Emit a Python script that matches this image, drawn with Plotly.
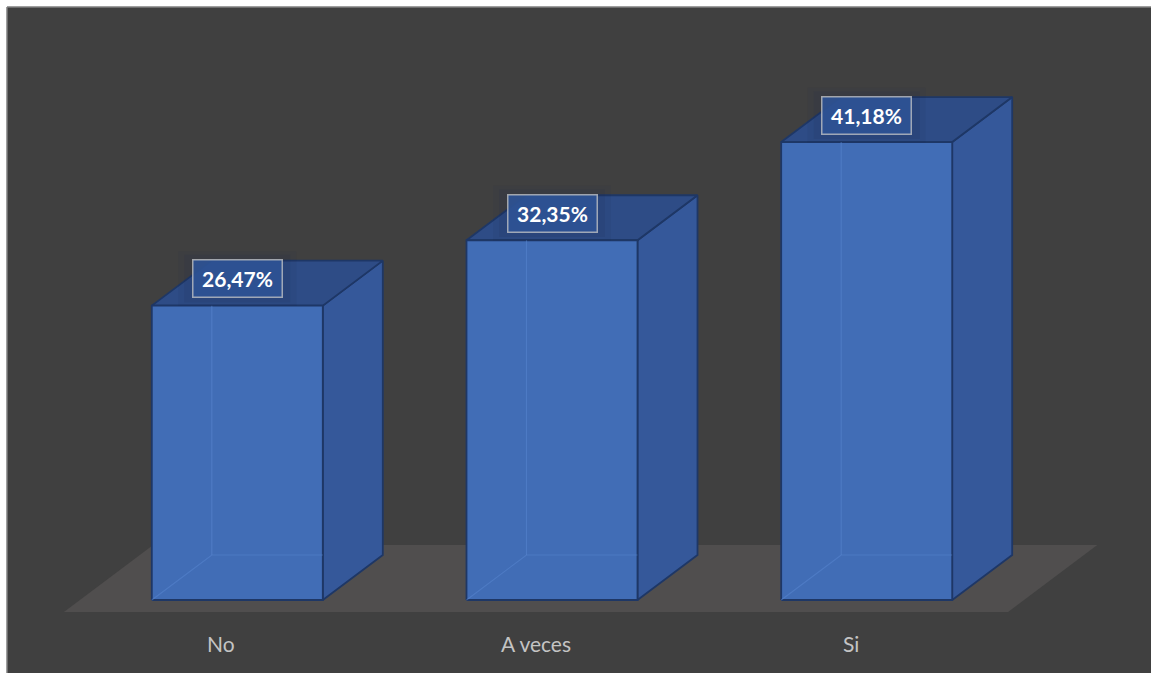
import plotly.graph_objects as go

# ---- data ----
categories = ["No", "A veces", "Si"]
values = [26.47, 32.35, 41.18]
value_labels = ["26,47%", "32,35%", "41,18%"]

# ---- layout geometry (pixels, page coordinates) ----
W, H = 1151, 673
ML, MT = 7, 7            # white margin around the chart area
CAT_PX = 314.7           # pixels per category
PX_PER_PCT = 11.12       # pixels per percentage point
X0_PX = 221.3            # page x of first category (floor front)
FLOOR_Y_PX = 612         # page y of floor front edge
DX, DY = 0.8, 0.6        # depth direction (per depth pixel)
FLOOR_DEPTH = 111.5
BAR_D0, BAR_D1 = 20, 95
HALF_W = 0.2717          # half bar width in category units

x_range = [(ML - X0_PX) / CAT_PX, (W - X0_PX) / CAT_PX]
y_range = [(FLOOR_Y_PX - H) / PX_PER_PCT, (FLOOR_Y_PX - MT) / PX_PER_PCT]


def proj(c, v, d):
    return c + DX * d / CAT_PX, v + DY * d / PX_PER_PCT


def poly(pts):
    xs = [p[0] for p in pts] + [pts[0][0]]
    ys = [p[1] for p in pts] + [pts[0][1]]
    return xs, ys


FRONT = "#416DB6"
SIDE = "#35589A"
TOP = "#2E4C86"
EDGE = "#1E3766"
FLOOR = "#504E4E"
BG = "#404040"

fig = go.Figure()

# floor
n = len(categories)
fl = [proj(-0.5, 0, 0), proj(n - 0.5, 0, 0),
      proj(n - 0.5, 0, FLOOR_DEPTH), proj(-0.5, 0, FLOOR_DEPTH)]
xs, ys = poly(fl)
fig.add_trace(go.Scatter(x=xs, y=ys, mode="lines", fill="toself",
                         fillcolor=FLOOR, line=dict(width=0),
                         hoverinfo="skip", showlegend=False))

for i, v in enumerate(values):
    cl, cr = i - HALF_W, i + HALF_W
    side = [proj(cr, 0, BAR_D0), proj(cr, 0, BAR_D1), proj(cr, v, BAR_D1), proj(cr, v, BAR_D0)]
    top = [proj(cl, v, BAR_D0), proj(cr, v, BAR_D0), proj(cr, v, BAR_D1), proj(cl, v, BAR_D1)]
    front = [proj(cl, 0, BAR_D0), proj(cr, 0, BAR_D0), proj(cr, v, BAR_D0), proj(cl, v, BAR_D0)]
    for pts, col in ((side, SIDE), (top, TOP), (front, FRONT)):
        xs, ys = poly(pts)
        fig.add_trace(go.Scatter(x=xs, y=ys, mode="lines", fill="toself",
                                 fillcolor=col, line=dict(color=EDGE, width=1.8),
                                 hoverinfo="skip", showlegend=False))
    # faint hidden edges seen through the front face
    bbl = proj(cl, 0, BAR_D1)
    fbl = proj(cl, 0, BAR_D0)
    ftl_y = proj(cl, v, BAR_D0)[1]
    bbr_x = proj(cr, 0, BAR_D0)[0]
    hx = [fbl[0], bbl[0], bbr_x, None, bbl[0], bbl[0]]
    hy = [fbl[1], bbl[1], bbl[1], None, bbl[1], ftl_y]
    fig.add_trace(go.Scatter(x=hx, y=hy, mode="lines",
                             line=dict(color="rgba(90,135,210,0.5)", width=1.2),
                             hoverinfo="skip", showlegend=False))

annotations = []
shapes = []
for i, (v, lab) in enumerate(zip(values, value_labels)):
    ax, ay = proj(i, v, BAR_D0)
    # soft shadow behind the label
    for k, a in ((14, 0.08), (8, 0.10)):
        shapes.append(dict(type="rect", xref="x", yref="y", xsizemode="pixel",
                           ysizemode="pixel", xanchor=ax, yanchor=ay,
                           x0=-45 - k, x1=45 + k, y0=27 - 19 - k * 0.6, y1=27 + 19 + k * 0.6,
                           fillcolor=f"rgba(25,40,75,{a})", line=dict(width=0),
                           layer="above"))
    annotations.append(dict(x=ax, y=ay, xref="x", yref="y", text=f"<b>{lab}</b>",
                            showarrow=False, yshift=27, width=86, height=34,
                            bgcolor="rgba(46,82,148,0.92)",
                            bordercolor="rgba(200,200,200,0.75)", borderwidth=1.5,
                            borderpad=1,
                            font=dict(family="Lato", size=21, color="white")))

for i, cat in enumerate(categories):
    annotations.append(dict(x=i, y=0, xref="x", yref="y", text=cat, showarrow=False,
                            yshift=-31, yanchor="middle",
                            font=dict(family="Lato", size=21, color="#C4C4C4")))

# outer border (left and top edges of chart area)
shapes.append(dict(type="line", xref="paper", yref="paper", x0=0, y0=0, x1=0, y1=1,
                   line=dict(color="#7F7F7F", width=1.5), layer="above"))
shapes.append(dict(type="line", xref="paper", yref="paper", x0=0, y0=1, x1=1, y1=1,
                   line=dict(color="#7F7F7F", width=1.5), layer="above"))

fig.update_layout(
    width=W, height=H,
    margin=dict(l=ML, r=0, t=MT, b=0, pad=0),
    paper_bgcolor="white", plot_bgcolor=BG,
    xaxis=dict(range=x_range, visible=False, fixedrange=True),
    yaxis=dict(range=y_range, visible=False, fixedrange=True),
    annotations=annotations, shapes=shapes,
    showlegend=False,
)

fig.write_html("out.html", config={"displayModeBar": False},
               post_script="document.body.style.margin='0';document.body.style.overflow='hidden';")
